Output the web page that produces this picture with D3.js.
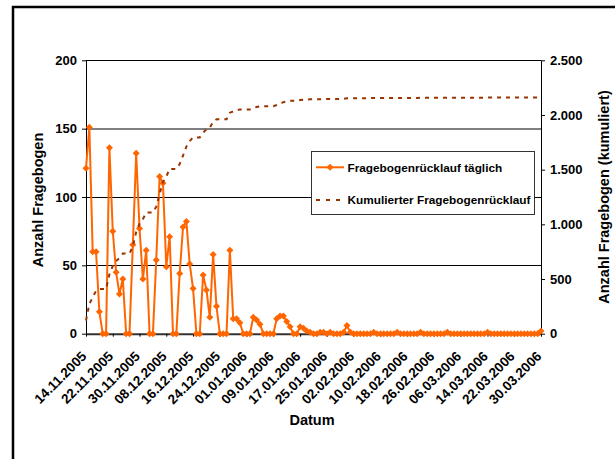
<!DOCTYPE html>
<html>
<head>
<meta charset="utf-8">
<script src="https://cdn.jsdelivr.net/npm/d3@7"></script>
<style>
  html, body { margin: 0; padding: 0; background: #fff; }
  svg { display: block; }
  text { font-family: Arial, "Liberation Sans", sans-serif; font-weight: bold; fill: #000; }
</style>
</head>
<body>
<svg id="chart" width="615" height="459"></svg>
<script>
// ---------------- data ----------------
const startDate = "14.11.2005";
const endDate = "30.03.2006";

// daily questionnaire returns (one value per day from 14.11.2005 to 30.03.2006)
const dailyValues = [
  121, 151, 60, 60, 16, 0, 0,
  136, 75, 45, 29, 40, 0, 0,
  65, 132, 77, 40, 61, 0, 0,
  54, 115, 110, 49, 71, 0, 0,
  44, 78, 82, 51, 33, 0, 0,
  43, 32, 12, 58, 20, 0, 0,
  0, 61, 11, 11, 8, 0, 0,
  0, 12, 10, 7, 0, 0, 0,
  0, 11, 13, 13, 9, 5, 0,
  0, 5, 4, 2, 1, 0, 0,
  1, 1, 0, 1, 0, 0, 0,
  1, 6, 1, 0, 0, 0, 0,
  0, 0, 1, 0, 0, 0, 0,
  0, 0, 1, 0, 0, 0, 0,
  0, 0, 1, 0, 0, 0, 0,
  0, 0, 0, 1, 0, 0, 0,
  0, 0, 0, 0, 0, 0, 0,
  0, 1, 0, 0, 0, 0, 0,
  0, 0, 0, 0, 0, 0, 0,
  0, 0, 0, 2
];

const xTickLabels = ["14.11.2005","22.11.2005","30.11.2005","08.12.2005","16.12.2005","24.12.2005",
  "01.01.2006","09.01.2006","17.01.2006","25.01.2006","02.02.2006","10.02.2006","18.02.2006",
  "26.02.2006","06.03.2006","14.03.2006","22.03.2006","30.03.2006"];
const leftTicks = [0, 50, 100, 150, 200];
const rightTicks = [0, 500, 1000, 1500, 2000, 2500];
const seriesNames = ["Fragebogenrücklauf täglich", "Kumulierter Fragebogenrücklauf"];
const leftTitle = "Anzahl Fragebogen";
const rightTitle = "Anzahl Fragebogen (kumuliert)";
const xTitle = "Datum";

// ---------------- setup ----------------
const parse = d3.utcParse("%d.%m.%Y");
const dates = d3.utcDay.range(parse(startDate), d3.utcDay.offset(parse(endDate), 1));
const cumulative = Array.from(d3.cumsum(dailyValues));
const rows = dates.map((d, i) => ({ date: d, daily: dailyValues[i], cum: cumulative[i] }));

const de = d3.formatLocale({ decimal: ",", thousands: ".", grouping: [3], currency: ["", "€"] });
const fmtRight = de.format(",.0f");

const L = 86, R = 541, T = 60.3, B = 333.7;
const ORANGE = "#FF6600", BROWN = "#993300";
const FONT = "Arial, 'Liberation Sans', sans-serif";

const svg = d3.select("#chart");

// outer frame
svg.append("rect").attr("x", 13).attr("y", 7).attr("width", 640).attr("height", 480)
  .attr("fill", "#fff").attr("stroke", "#000").attr("stroke-width", 2.5);

const x = d3.scaleUtc().domain([parse(startDate), parse(endDate)]).range([L, R]);
const yL = d3.scaleLinear().domain([0, 200]).range([B, T]);
const yR = d3.scaleLinear().domain([0, 2500]).range([B, T]);

// gridlines
svg.append("g").selectAll("line").data(leftTicks.filter(v => v > 0)).join("line")
  .attr("x1", L).attr("x2", R)
  .attr("y1", d => yL(d)).attr("y2", d => yL(d))
  .attr("stroke", d => d === 150 ? "#808080" : "#000")
  .attr("stroke-width", d => d === 150 ? 2 : 1)
  .attr("shape-rendering", "crispEdges");

// left axis
const gL = svg.append("g").attr("transform", `translate(${L},0)`)
  .call(d3.axisLeft(yL).tickValues(leftTicks).tickSize(4).tickSizeOuter(0).tickPadding(5));
// right axis
const gR = svg.append("g").attr("transform", `translate(${R},0)`)
  .call(d3.axisRight(yR).tickValues(rightTicks).tickSize(4).tickSizeOuter(0).tickPadding(5).tickFormat(fmtRight));
[gL, gR].forEach(g => {
  g.attr("font-family", FONT);
  g.select(".domain").attr("stroke", "#000").attr("stroke-width", 1);
  g.selectAll(".tick line").attr("stroke", "#000");
  g.selectAll("text").attr("font-size", 13).attr("font-weight", "bold");
});

// bottom axis
const tickDates = xTickLabels.map(parse);
const gB = svg.append("g").attr("transform", `translate(0,${B})`)
  .call(d3.axisBottom(x).tickValues(tickDates).tickSize(3).tickSizeOuter(0).tickFormat(""));
gB.select(".domain").attr("stroke", "#333").attr("stroke-width", 2);
gB.selectAll(".tick line").attr("stroke", "#000");

svg.append("g").selectAll("text").data(xTickLabels).join("text")
  .attr("transform", d => `translate(${x(parse(d)) + 1.3},${B + 23.5}) rotate(-45)`)
  .attr("text-anchor", "end")
  .attr("font-size", 13.5)
  .text(d => d);

// series: daily
const lineDaily = d3.line().x(d => x(d.date)).y(d => yL(d.daily));
svg.append("path").datum(rows).attr("d", lineDaily)
  .attr("fill", "none").attr("stroke", ORANGE).attr("stroke-width", 2).attr("stroke-linejoin", "round");
const diamond = r => `M0,${-r}L${r},0L0,${r}L${-r},0Z`;
svg.append("g").selectAll("path").data(rows).join("path")
  .attr("transform", d => `translate(${x(d.date)},${yL(d.daily)})`)
  .attr("d", diamond(3.5)).attr("fill", ORANGE);

// series: cumulative
const lineCum = d3.line().x(d => x(d.date)).y(d => yR(d.cum));
svg.append("path").datum(rows).attr("d", lineCum)
  .attr("fill", "none").attr("stroke", BROWN).attr("stroke-width", 2).attr("stroke-dasharray", "4,5");

// axis titles
svg.append("text").attr("transform", `translate(43,200) rotate(-90)`)
  .attr("text-anchor", "middle").attr("font-size", 14.5).text(leftTitle);
svg.append("text").attr("transform", `translate(609,197) rotate(-90)`)
  .attr("text-anchor", "middle").attr("font-size", 14.5).text(rightTitle);
svg.append("text").attr("x", 312).attr("y", 425)
  .attr("text-anchor", "middle").attr("font-size", 14.5).text(xTitle);

// legend
const lg = svg.append("g");
lg.append("rect").attr("x", 311.5).attr("y", 151.5).attr("width", 223).attr("height", 63)
  .attr("fill", "#fff").attr("stroke", "#333").attr("stroke-width", 1);
const ly1 = 167.3, ly2 = 200;
lg.append("line").attr("x1", 316).attr("x2", 344).attr("y1", ly1).attr("y2", ly1)
  .attr("stroke", ORANGE).attr("stroke-width", 2);
lg.append("path").attr("transform", `translate(330,${ly1})`).attr("d", diamond(3.5)).attr("fill", ORANGE);
lg.append("text").attr("x", 347.5).attr("y", ly1 + 4.3).attr("font-size", 11.8).text(seriesNames[0]);
lg.append("line").attr("x1", 316).attr("x2", 344).attr("y1", ly2).attr("y2", ly2)
  .attr("stroke", BROWN).attr("stroke-width", 2).attr("stroke-dasharray", "4,6");
lg.append("text").attr("x", 347.5).attr("y", ly2 + 4.3).attr("font-size", 11.8).text(seriesNames[1]);
</script>
</body>
</html>
